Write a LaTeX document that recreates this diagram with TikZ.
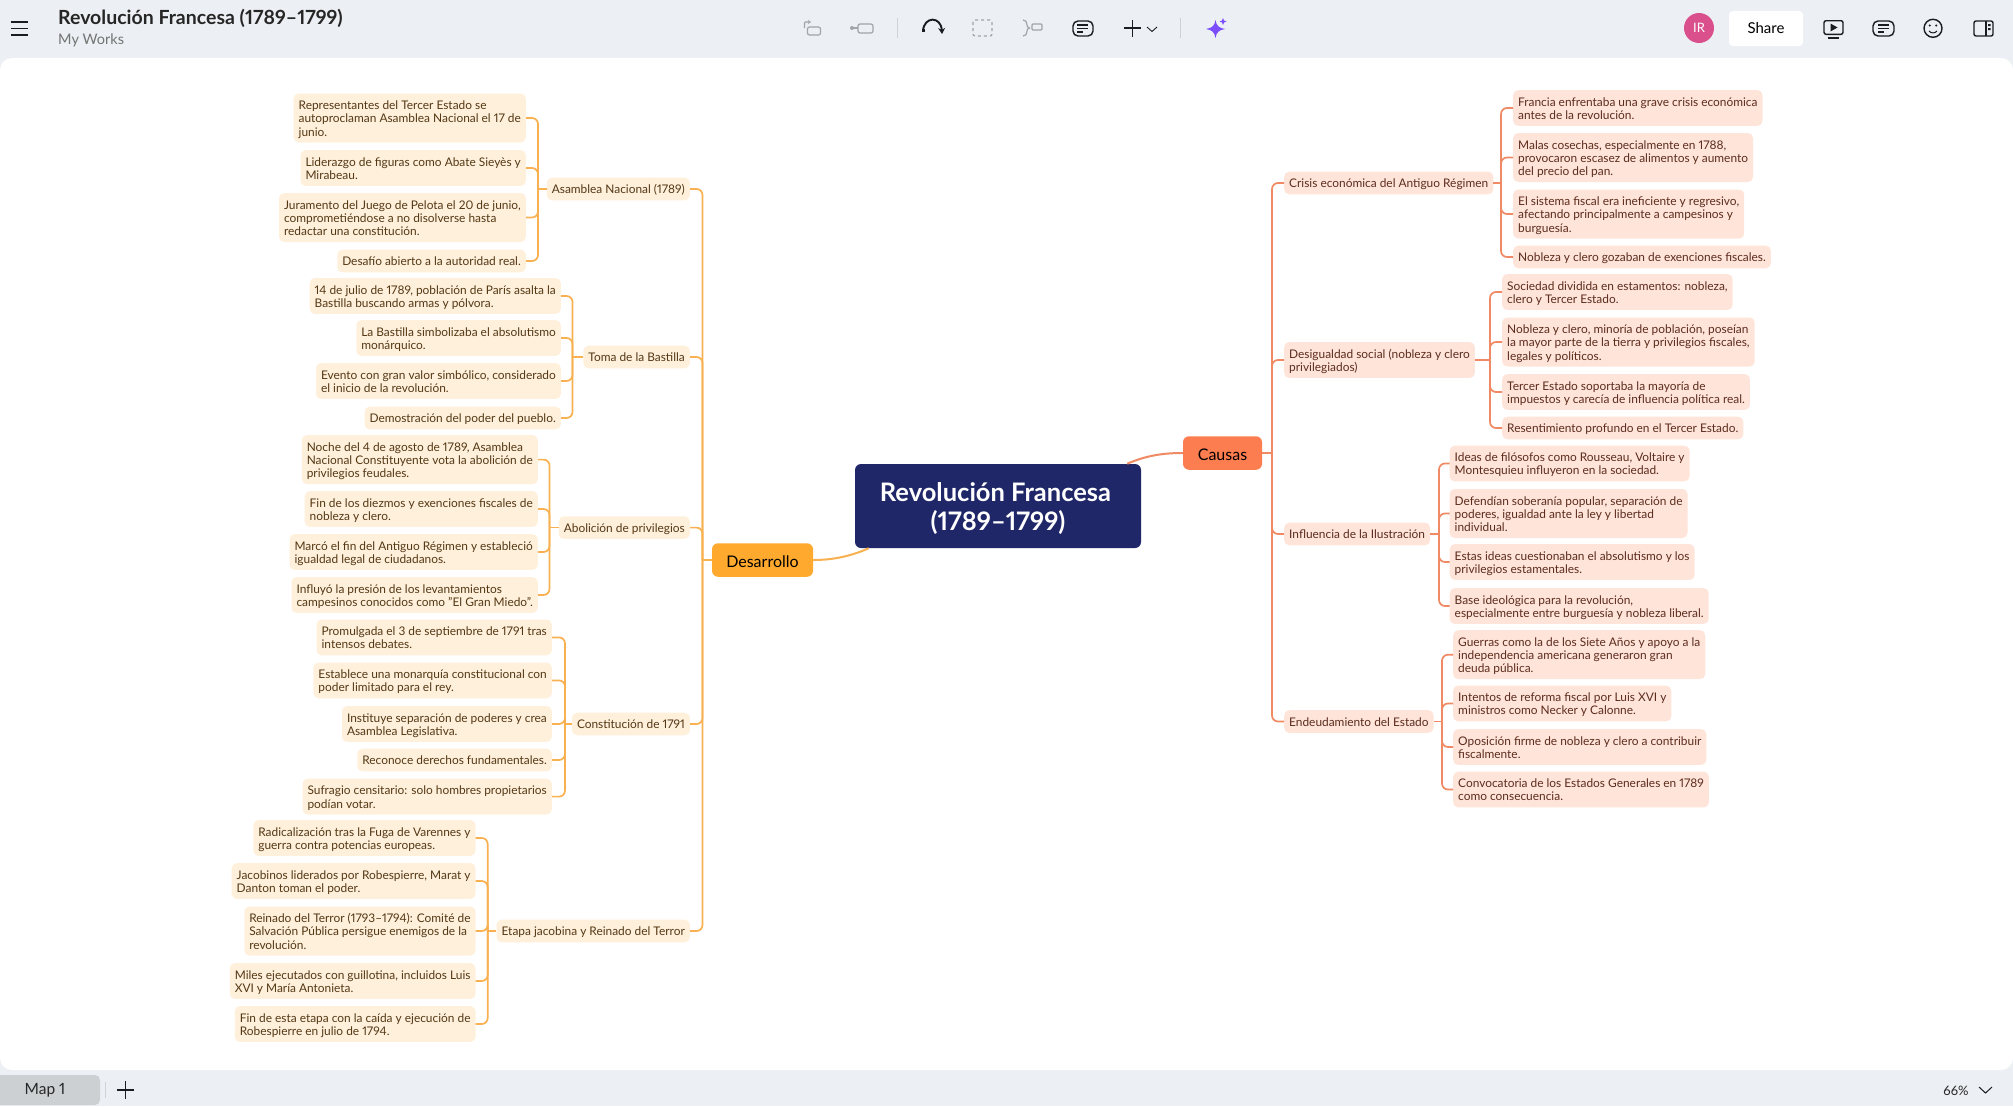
\documentclass[tikz,border=0pt]{standalone}
\usepackage{fontspec}
\setmainfont{Lato}[Numbers=Proportional]
\usepackage{tikz}
\usetikzlibrary{arrows.meta}
\definecolor{mybar}{RGB}{236,239,243}
\definecolor{mynavy}{RGB}{31,39,104}
\definecolor{myorange}{RGB}{255,169,47}
\definecolor{mycoral}{RGB}{252,125,80}
\definecolor{myorangelight}{RGB}{255,240,220}
\definecolor{mycorallight}{RGB}{255,228,218}
\definecolor{myorangeline}{RGB}{249,176,80}
\definecolor{mycoralline}{RGB}{240,138,100}
\definecolor{mybrown}{RGB}{84,56,20}
\definecolor{myrust}{RGB}{92,44,28}
\definecolor{myicon}{RGB}{25,28,32}
\definecolor{myfaint}{RGB}{160,165,170}
\definecolor{mypink}{RGB}{217,80,140}
\definecolor{myviolet}{RGB}{124,77,255}
\newcommand{\arr}{\rule{0pt}{14.1pt}}
\tikzset{
  txt/.style={font=\fontsize{11.9}{13.2}\selectfont, align=left, inner xsep=5pt, inner ysep=2pt,
    rounded corners=5pt, execute at begin node=\arr, execute at end node=\rule[-4.5pt]{0pt}{9pt}},
  ltxt/.style={txt, fill=myorangelight, text=mybrown, anchor=east},
  rtxt/.style={txt, fill=mycorallight, text=myrust, anchor=west},
  lline/.style={draw=myorangeline, line width=1.7pt, rounded corners=6pt},
  rline/.style={draw=mycoralline, line width=1.7pt, rounded corners=6pt},
  tema/.style={font=\fontsize{16}{18}\selectfont, rounded corners=6pt, text=black, minimum height=33.5pt, inner sep=0pt,
    execute at begin node=\rule{0pt}{14.5pt}},
  barlabel/.style={inner sep=0pt, anchor=west},
  icono/.style={draw=myicon, line width=1.4pt},
  tenue/.style={draw=myfaint, line width=1.2pt}
}

\begin{document}
\begin{tikzpicture}[x=1pt,y=-1pt]
\useasboundingbox (0,0) rectangle (2013,1106);

% barras y lienzo
\fill[mybar] (0,0) rectangle (2013,1106);
\fill[white, rounded corners=12pt] (0,58) rectangle (2013,1070);

% barra superior
\draw[icono, line width=1.7pt] (11,22) -- (28,22) (11,28.5) -- (28,28.5) (11,35) -- (28,35);
\node[barlabel, font=\fontsize{19.5}{21}\selectfont\bfseries, text=black!85] (titulo) at (58,18.5) {Revolución Francesa (1789--1799)};
\node[barlabel, font=\fontsize{14.5}{16}\selectfont, text=black!55] (carpeta) at (58,40.5) {My Works};

\draw[tenue, rounded corners=1pt, -{Stealth[length=3pt,width=4pt]}] (804.5,28) -- (804.5,22) -- (811,22);
\draw[tenue, rounded corners=2pt] (807.5,27) rectangle (820.5,35);
\fill[myfaint] (852,28) circle (2);
\draw[tenue] (852,28) -- (858,28);
\draw[tenue, rounded corners=2pt] (858,24) rectangle (873,33);
\draw[myfaint!50, line width=0.8pt] (897,18) -- (897,38);
\draw[icono, line width=1.9pt, -{Stealth[length=6pt,width=7pt]}] (923,31) .. controls (924,16) and (941,16) .. (942,34);
\fill[myicon] (921.5,28.5) rectangle (924.5,32);
\draw[tenue, dashed, rounded corners=2pt] (973,20) rectangle (992,36);
\draw[tenue] (1023,20) .. controls (1029,20) and (1025,28) .. (1029.5,28) .. controls (1025,28) and (1029,36) .. (1023,36);
\draw[tenue, rounded corners=1pt] (1032,24) rectangle (1042,30);
\draw[icono, rounded corners=5pt] (1073,21) rectangle (1093,36);
\draw[icono] (1077,25) -- (1088,25) (1077,28.5) -- (1088,28.5) (1077,32) -- (1083,32);
\draw[icono, line width=1.7pt] (1124,28) -- (1141,28) (1132.5,20) -- (1132.5,37);
\draw[icono, line width=0.9pt] (1147,27) -- (1152,31.5) -- (1157,27);
\draw[myfaint!50, line width=0.8pt] (1180.5,18) -- (1180.5,38);
\fill[myviolet] (1215.5,20) .. controls (1216.5,26) and (1219,28) .. (1225,29) .. controls (1219,30) and (1216.5,32) .. (1215.5,38) .. controls (1214.5,32) and (1212,30) .. (1206,29) .. controls (1212,28) and (1214.5,26) .. (1215.5,20) -- cycle;
\fill[myviolet] (1223,18) -- (1224,20.5) -- (1226.5,21.5) -- (1224,22.5) -- (1223,25) -- (1222,22.5) -- (1219.5,21.5) -- (1222,20.5) -- cycle;

\node[circle, fill=mypink, text=white, minimum size=30pt, inner sep=0pt, font=\fontsize{13}{15}\selectfont] (usuario) at (1699,28) {IR};
\node[fill=white, rounded corners=4pt, minimum width=74pt, minimum height=35pt, inner sep=0pt, text=black, font=\fontsize{15}{18}\selectfont] (compartir) at (1766,28.5) {Share};
\draw[icono, rounded corners=2pt] (1824,20.7) rectangle (1843,34.3);
\fill[myicon] (1830.5,23.5) -- (1837.5,27.5) -- (1830.5,31.5) -- cycle;
\draw[icono] (1828,38) -- (1839,38);
\draw[icono, rounded corners=5pt] (1873,21) rectangle (1894,36);
\draw[icono] (1878,25) -- (1889,25) (1878,28.5) -- (1889,28.5) (1878,32) -- (1884,32);
\draw[icono] (1933,28.3) circle (9);
\fill[myicon] (1929.8,25.5) circle (1.1) (1936.2,25.5) circle (1.1);
\draw[icono, line width=1pt] (1929,31) .. controls (1931,33.5) and (1935,33.5) .. (1937,31);
\draw[icono, rounded corners=2pt] (1974,21) rectangle (1993,36);
\draw[icono] (1986,21) -- (1986,36);
\fill[myicon] (1988,24) rectangle (1990.5,26) (1988,28) rectangle (1990.5,30);

% barra inferior
\fill[black!13!mybar, rounded corners=5pt] (-10,1075) rectangle (100,1105);
\node[font=\fontsize{15.5}{18}\selectfont, text=black!85, inner sep=0pt] (hoja) at (45,1090) {Map 1};
\draw[myfaint!50, line width=0.8pt] (105,1082) -- (105,1098);
\draw[icono, line width=1.6pt] (117,1090) -- (134,1090) (125.5,1081) -- (125.5,1099);
\node[font=\fontsize{13}{15}\selectfont, text=black!85, inner sep=0pt] (zoom) at (1956,1091) {66\%};
\draw[icono, line width=1pt] (1979,1087) -- (1985.5,1093) -- (1992,1087);

% nodos centrales
\node[fill=mynavy, text=white, rounded corners=6pt, minimum width=286pt, minimum height=84pt, align=center, inner sep=0pt,
  font=\fontsize{25.5}{29}\selectfont\bfseries] (centro) at (998,506) {\rule{0pt}{24pt}Revolución Francesa\hspace*{5pt}\\(1789--1799)};
\node[tema, fill=mycoral, minimum width=79pt] (causas) at (1222.5,453) {Causas};
\node[tema, fill=myorange, minimum width=101pt] (desarrollo) at (762.5,560) {Desarrollo};

% Causas: ramas
\node[rtxt] (crisis) at (1284,183) {Crisis económica del Antiguo Régimen};
\node[rtxt] (desigualdad) at (1284,360) {\arr Desigualdad social (nobleza y clero\\privilegiados)};
\node[rtxt] (ilustracion) at (1284,534) {Influencia de la Ilustración};
\node[rtxt] (deuda) at (1284,721.5) {Endeudamiento del Estado};

% Crisis
\node[rtxt] (r1a) at (1513,108) {\arr Francia enfrentaba una grave crisis económica\\antes de la revolución.};
\node[rtxt] (r1b) at (1513,157.5) {\arr Malas cosechas, especialmente en 1788,\\provocaron escasez de alimentos y aumento\\del precio del pan.};
\node[rtxt] (r1c) at (1513,214) {\arr El sistema fiscal era ineficiente y regresivo,\\afectando principalmente a campesinos y\\burguesía.};
\node[rtxt] (r1d) at (1513,257) {Nobleza y clero gozaban de exenciones fiscales.};

% Desigualdad
\node[rtxt] (r2a) at (1502,292) {\arr Sociedad dividida en estamentos: nobleza,\\clero y Tercer Estado.};
\node[rtxt] (r2b) at (1502,342) {\arr Nobleza y clero, minoría de población, poseían\\la mayor parte de la tierra y privilegios fiscales,\\legales y políticos.};
\node[rtxt] (r2c) at (1502,392) {\arr Tercer Estado soportaba la mayoría de\\impuestos y carecía de influencia política real.};
\node[rtxt] (r2d) at (1502,428) {Resentimiento profundo en el Tercer Estado.};

% Ilustracion
\node[rtxt] (r3a) at (1449.5,463.5) {\arr Ideas de filósofos como Rousseau, Voltaire y\\Montesquieu influyeron en la sociedad.};
\node[rtxt] (r3b) at (1449.5,513.5) {\arr Defendían soberanía popular, separación de\\poderes, igualdad ante la ley y libertad\\individual.};
\node[rtxt] (r3c) at (1449.5,562) {\arr Estas ideas cuestionaban el absolutismo y los\\privilegios estamentales.};
\node[rtxt] (r3d) at (1449.5,606) {\arr Base ideológica para la revolución,\\especialmente entre burguesía y nobleza liberal.};

% Endeudamiento
\node[rtxt] (r4a) at (1453,654.7) {\arr Guerras como la de los Siete Años y apoyo a la\\independencia americana generaron gran\\deuda pública.};
\node[rtxt] (r4b) at (1453,703.5) {\arr Intentos de reforma fiscal por Luis XVI y\\ministros como Necker y Calonne.};
\node[rtxt] (r4c) at (1453,747) {\arr Oposición firme de nobleza y clero a contribuir\\fiscalmente.};
\node[rtxt] (r4d) at (1453,789.5) {\arr Convocatoria de los Estados Generales en 1789\\como consecuencia.};

% Desarrollo: ramas
\node[ltxt] (asamblea) at (690,189) {Asamblea Nacional (1789)};
\node[ltxt] (bastilla) at (690,357) {Toma de la Bastilla};
\node[ltxt] (abolicion) at (690,527.6) {Abolición de privilegios};
\node[ltxt] (constitucion) at (690,724) {Constitución de 1791};
\node[ltxt] (etapa) at (690,931) {Etapa jacobina y Reinado del Terror};

% Asamblea
\node[ltxt] (l1a) at (526,118) {\arr Representantes del Tercer Estado se\\autoproclaman Asamblea Nacional el 17 de\\junio.};
\node[ltxt] (l1b) at (526,168) {\arr Liderazgo de figuras como Abate Sieyès y\\Mirabeau.};
\node[ltxt] (l1c) at (526,217.5) {\arr Juramento del Juego de Pelota el 20 de junio,\\comprometiéndose a no disolverse hasta\\redactar una constitución.};
\node[ltxt] (l1d) at (526,261) {Desafío abierto a la autoridad real.};

% Bastilla
\node[ltxt] (l2a) at (561,296) {\arr 14 de julio de 1789, población de París asalta la\\Bastilla buscando armas y pólvora.};
\node[ltxt] (l2b) at (561,338) {\arr La Bastilla simbolizaba el absolutismo\\monárquico.};
\node[ltxt] (l2c) at (561,381) {\arr Evento con gran valor simbólico, considerado\\el inicio de la revolución.};
\node[ltxt] (l2d) at (561,418) {Demostración del poder del pueblo.};

% Abolicion
\node[ltxt] (l3a) at (538,459.6) {\arr Noche del 4 de agosto de 1789, Asamblea\\Nacional Constituyente vota la abolición de\\privilegios feudales.};
\node[ltxt] (l3b) at (538,509) {\arr Fin de los diezmos y exenciones fiscales de\\nobleza y clero.};
\node[ltxt] (l3c) at (538,552) {\arr Marcó el fin del Antiguo Régimen y estableció\\igualdad legal de ciudadanos.};
\node[ltxt] (l3d) at (538,595) {\arr Influyó la presión de los levantamientos\\campesinos conocidos como "El Gran Miedo".};

% Constitucion
\node[ltxt] (l4a) at (552,637.4) {\arr Promulgada el 3 de septiembre de 1791 tras\\intensos debates.};
\node[ltxt] (l4b) at (552,680.4) {\arr Establece una monarquía constitucional con\\poder limitado para el rey.};
\node[ltxt] (l4c) at (552,724) {\arr Instituye separación de poderes y crea\\Asamblea Legislativa.};
\node[ltxt] (l4d) at (552,760) {Reconoce derechos fundamentales.};
\node[ltxt] (l4e) at (552,796.6) {\arr Sufragio censitario: solo hombres propietarios\\podían votar.};

% Etapa
\node[ltxt] (l5a) at (475.7,838) {\arr Radicalización tras la Fuga de Varennes y\\guerra contra potencias europeas.};
\node[ltxt] (l5b) at (475.7,881) {\arr Jacobinos liderados por Robespierre, Marat y\\Danton toman el poder.};
\node[ltxt] (l5c) at (475.7,931) {\arr Reinado del Terror (1793--1794): Comité de\\Salvación Pública persigue enemigos de la\\revolución.};
\node[ltxt] (l5d) at (475.7,981) {\arr Miles ejecutados con guillotina, incluidos Luis\\XVI y María Antonieta.};
\node[ltxt] (l5e) at (475.7,1024) {\arr Fin de esta etapa con la caída y ejecución de\\Robespierre en julio de 1794.};

% troncos de los corchetes
\coordinate (tronco) at (1272,453);
\coordinate (t1) at (1501,183);
\coordinate (t2) at (1490,360);
\coordinate (t3) at (1439,534);
\coordinate (t4) at (1442,721.5);
\coordinate (eje) at (702.5,560);
\coordinate (e1) at (538,189);
\coordinate (e2) at (572.5,357);
\coordinate (e3) at (549.5,527.6);
\coordinate (e4) at (565,724);
\coordinate (e5) at (487.7,931);

% conectores centrales
\draw[draw=mycoralline, line width=2pt] (centro.north east) ++(-14,0) coordinate (sc) (sc) .. controls (1147,455) and (1165,453) .. (causas.west);
\draw[draw=myorangeline, line width=2pt] (centro.south west) ++(14,0) coordinate (sd) (sd) .. controls (849,557) and (831,560) .. (desarrollo.east);

% conectores derecha
\draw[rline] (causas.east) -- (tronco);
\foreach \rama in {crisis,desigualdad,ilustracion,deuda} \draw[rline] (\rama.west) -| (tronco);
\draw[rline] (crisis.east) -- (t1);
\foreach \hoja in {r1a,r1b,r1c,r1d} \draw[rline] (\hoja.west) -| (t1);
\draw[rline] (desigualdad.east) -- (t2);
\foreach \hoja in {r2a,r2b,r2c,r2d} \draw[rline] (\hoja.west) -| (t2);
\draw[rline] (ilustracion.east) -- (t3);
\foreach \hoja in {r3a,r3b,r3c,r3d} \draw[rline] (\hoja.west) -| (t3);
\draw[rline] (deuda.east) -- (t4);
\foreach \hoja in {r4a,r4b,r4c,r4d} \draw[rline] (\hoja.west) -| (t4);

% conectores izquierda
\draw[lline] (desarrollo.west) -- (eje);
\foreach \rama in {asamblea,bastilla,abolicion,constitucion,etapa} \draw[lline] (\rama.east) -| (eje);
\draw[lline] (asamblea.west) -- (e1);
\foreach \hoja in {l1a,l1b,l1c,l1d} \draw[lline] (\hoja.east) -| (e1);
\draw[lline] (bastilla.west) -- (e2);
\foreach \hoja in {l2a,l2b,l2c,l2d} \draw[lline] (\hoja.east) -| (e2);
\draw[lline] (abolicion.west) -- (e3);
\foreach \hoja in {l3a,l3b,l3c,l3d} \draw[lline] (\hoja.east) -| (e3);
\draw[lline] (constitucion.west) -- (e4);
\foreach \hoja in {l4a,l4b,l4c,l4d,l4e} \draw[lline] (\hoja.east) -| (e4);
\draw[lline] (etapa.west) -- (e5);
\foreach \hoja in {l5a,l5b,l5c,l5d,l5e} \draw[lline] (\hoja.east) -| (e5);

\end{tikzpicture}
\end{document}
